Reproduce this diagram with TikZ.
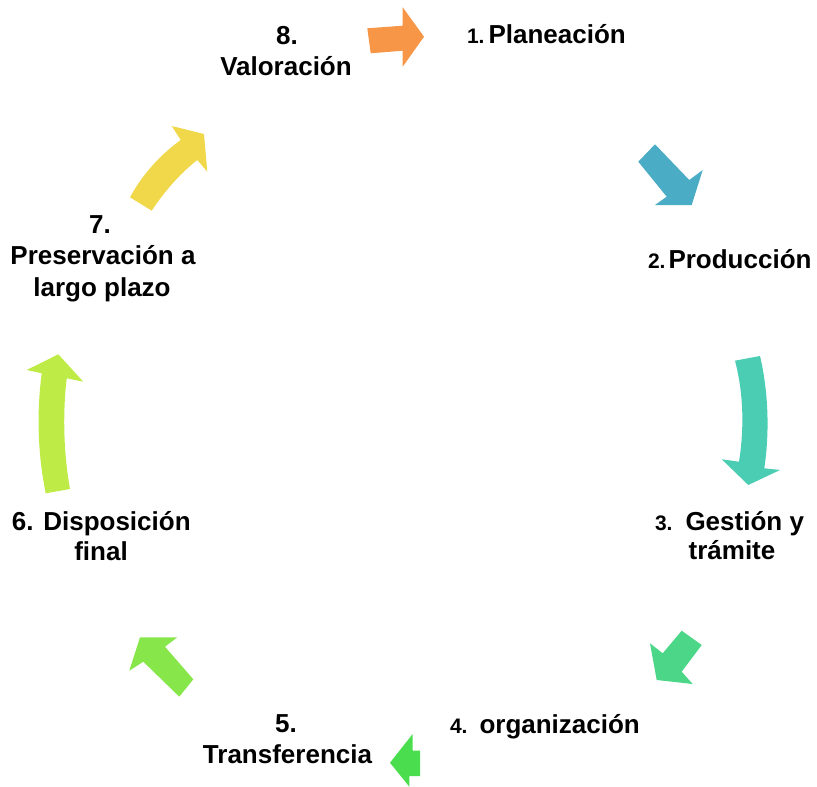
\documentclass[tikz,border=0pt]{standalone}
\usepackage{fontspec}
\setmainfont{Liberation Sans}
\definecolor{cOrange}{HTML}{F79646}
\definecolor{cBlue}{HTML}{4BACC6}
\definecolor{cTeal}{HTML}{4BCDB4}
\definecolor{cGreen}{HTML}{4BD688}
\definecolor{cBright}{HTML}{4ADE4F}
\definecolor{cLime}{HTML}{86E64A}
\definecolor{cYGreen}{HTML}{BEEB46}
\definecolor{cYellow}{HTML}{F0D84A}
\begin{document}
\begin{tikzpicture}[x=1pt,y=-1pt,
  lbl/.style={inner sep=0pt,outer sep=0pt,font=\fontsize{26}{31}\selectfont\bfseries},
  shapearrow/.style={draw=none}]
\useasboundingbox (0,0) rectangle (817,787);
\newcommand{\numsm}[1]{{\fontsize{21}{26}\selectfont #1}}
% arrows
\fill[shapearrow,cOrange] (367.3,28.3) -- (402.7,25.7) -- (402.7,7.3) -- (424,36.7) -- (402.7,66.7) -- (402.7,50.7) -- (370.7,53.3) -- cycle;
\fill[shapearrow,cBlue] (655,144.3) -- (689.3,180) -- (702.7,170) -- (691.7,205) -- (655,205) -- (666.7,196.7) -- (638.3,161.7) -- cycle;
\fill[shapearrow,cTeal] (735,360.7) -- (760,356) .. controls (768,390) and (770,430) .. (764.3,468.3) -- (780,470) -- (748.3,485) -- (721.7,459.3) -- (739,461.7) .. controls (744,430) and (744,395) .. (735,360.7) -- cycle;
\fill[shapearrow,cGreen] (681.7,630.7) -- (701.7,645) -- (681.7,671.7) -- (692.7,684) -- (656.7,680) -- (650,643.3) -- (662.7,653.3) -- cycle;
\fill[shapearrow,cBright] (390,762.7) -- (412.7,734) -- (412.7,750.7) -- (420,750.7) -- (420,776) -- (409.3,776) -- (409.3,786.7) -- cycle;
\fill[shapearrow,cLime] (140,637.3) -- (177.3,637.3) -- (165,646.7) -- (193.3,679.3) -- (179.3,696.7) -- (143.3,661.7) -- (129.3,670.7) -- cycle;
\fill[shapearrow,cYGreen] (58.3,354.3) -- (83.3,381.7) -- (66.7,378.3) .. controls (63,410) and (63,450) .. (70,489) -- (45.7,493.3) .. controls (37,450) and (37,410) .. (41.7,373.3) -- (26.7,370) -- cycle;
\fill[shapearrow,cYellow] (130,197.3) .. controls (142,175) and (160,155) .. (180.7,140) -- (171.7,126) -- (204,134) -- (207.3,171.7) -- (197.3,160) .. controls (178,175) and (162,195) .. (151.7,210.7) -- cycle;
% labels
\node[lbl,anchor=base west] (l1) at (467,43) {\numsm{1.}\hspace{4pt}Planeación};
\node[lbl,anchor=base west] (l2) at (648,268) {\numsm{2.}\hspace{3pt}Producción};
\node[lbl,anchor=base west] (l3a) at (655,530) {\numsm{3.}\hspace{13pt}Gestión y};
\node[lbl,anchor=base] (l3b) at (732,559) {trámite};
\node[lbl,anchor=base west] (l4) at (450,733) {\numsm{4.}\hspace{12pt}organización};
\node[lbl,anchor=base] (l5a) at (286,732) {5.};
\node[lbl,anchor=base] (l5b) at (287.5,763) {Transferencia};
\node[lbl,anchor=base west] (l6a) at (12,530) {6. Disposición};
\node[lbl,anchor=base] (l6b) at (101,560) {final};
\node[lbl,anchor=base] (l7a) at (100,233) {7.};
\node[lbl,anchor=base] (l7b) at (103,264) {Preservación a};
\node[lbl,anchor=base] (l7c) at (102,296) {largo plazo};
\node[lbl,anchor=base] (l8a) at (287,44) {8.};
\node[lbl,anchor=base] (l8b) at (286,75) {Valoración};
\end{tikzpicture}
\end{document}
